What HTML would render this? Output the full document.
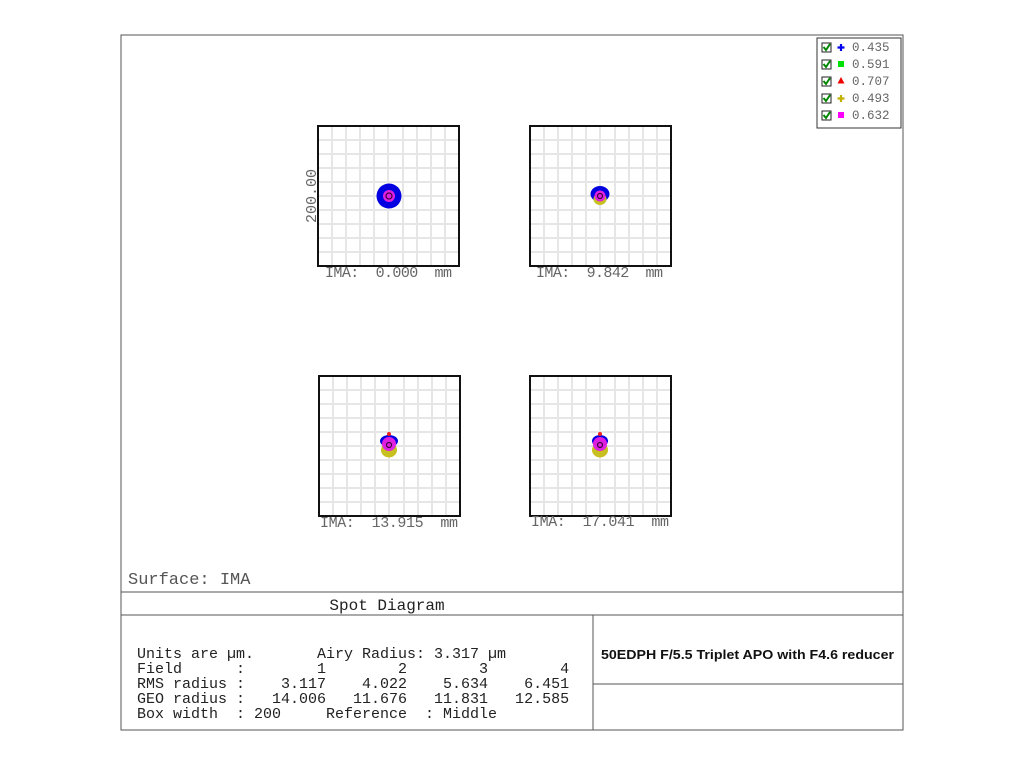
<!DOCTYPE html>
<html><head><meta charset="utf-8"><style>
body{margin:0;background:#fff;}
svg text{font-family:"Liberation Mono",monospace;white-space:pre;}
</style></head><body>
<svg width="1024" height="761" xmlns="http://www.w3.org/2000/svg">
<defs>
<g id="box">
<rect x="0" y="0" width="141" height="140" fill="#fff"/>
<g stroke="#e6e6e6" stroke-width="2">
<path d="M14 0V140M28 0V140M42 0V140M56 0V140M70 0V140M85 0V140M99 0V140M113 0V140M127 0V140"/>
<path d="M0 14H141M0 28H141M0 42H141M0 56H141M0 70H141M0 84H141M0 98H141M0 112H141M0 126H141"/>
</g>
<rect x="0" y="0" width="141" height="140" fill="none" stroke="#111" stroke-width="2"/>
</g>
</defs>
<rect x="121" y="35" width="782" height="695" fill="none" stroke="#555" stroke-width="1"/>
<line x1="121" y1="592" x2="903" y2="592" stroke="#555"/>
<line x1="121" y1="615" x2="903" y2="615" stroke="#555"/>
<line x1="593" y1="615" x2="593" y2="730" stroke="#555"/>
<line x1="593" y1="684" x2="903" y2="684" stroke="#555"/>

<use href="#box" x="318" y="126"/>
<use href="#box" x="530" y="126"/>
<use href="#box" x="319" y="376"/>
<use href="#box" x="530" y="376"/>

<g font-size="15" fill="#666">
<text x="325" y="277" textLength="127" lengthAdjust="spacing">IMA:  0.000  mm</text>
<text x="536" y="277" textLength="127" lengthAdjust="spacing">IMA:  9.842  mm</text>
<text x="320" y="527" textLength="138" lengthAdjust="spacing">IMA:  13.915  mm</text>
<text x="531" y="526" textLength="138" lengthAdjust="spacing">IMA:  17.041  mm</text>
<text transform="translate(316,196) rotate(-90)" text-anchor="middle">200.00</text>
</g>

<circle cx="389" cy="196" r="12.5" fill="#0000e0"/>
<circle cx="389" cy="196" r="6" fill="#e020e0"/>
<circle cx="389" cy="196" r="3" fill="none" stroke="#400040" stroke-width="1.2"/>

<ellipse cx="600" cy="194" rx="9.5" ry="8" fill="#0000e0"/>
<ellipse cx="600" cy="199" rx="6.5" ry="6" fill="#c8c020"/>
<circle cx="600" cy="196" r="5.5" fill="#e020e0"/>
<circle cx="600" cy="196" r="2.5" fill="none" stroke="#400040" stroke-width="1.2"/>

<ellipse cx="389" cy="441" rx="9" ry="6" fill="#0000e0"/>
<ellipse cx="389" cy="450" rx="8" ry="7.5" fill="#c8c020"/>
<circle cx="389" cy="444" r="7" fill="#e020e0"/>
<circle cx="389" cy="434" r="2" fill="#f02020"/>
<circle cx="389" cy="445" r="2.5" fill="none" stroke="#400040" stroke-width="1.2"/>

<ellipse cx="600" cy="441" rx="8" ry="6" fill="#0000e0"/>
<ellipse cx="600" cy="450" rx="8" ry="7.5" fill="#c8c020"/>
<circle cx="600" cy="444" r="7" fill="#e020e0"/>
<circle cx="600" cy="434" r="2" fill="#f02020"/>
<circle cx="600" cy="445" r="2.5" fill="none" stroke="#400040" stroke-width="1.2"/>

<rect x="817" y="38" width="84" height="90" fill="#fff" stroke="#333"/>
<g font-size="12.5" fill="#666">
<g>
<rect x="822" y="43" width="9" height="9" fill="#fff" stroke="#222"/><path d="M823.5 47l2.5 3 4-6" stroke="#080" stroke-width="2" fill="none"/>
<path d="M841 44v7M837.5 47.5h7" stroke="#0000ee" stroke-width="2.2"/>
<text x="852" y="51">0.435</text></g>
<g>
<rect x="822" y="60" width="9" height="9" fill="#fff" stroke="#222"/><path d="M823.5 64l2.5 3 4-6" stroke="#080" stroke-width="2" fill="none"/>
<rect x="838" y="61" width="6" height="6" fill="#00e000"/>
<text x="852" y="68">0.591</text></g>
<g>
<rect x="822" y="77" width="9" height="9" fill="#fff" stroke="#222"/><path d="M823.5 81l2.5 3 4-6" stroke="#080" stroke-width="2" fill="none"/>
<path d="M841 77l3.5 6.5h-7z" fill="#ee0000"/>
<text x="852" y="85">0.707</text></g>
<g>
<rect x="822" y="94" width="9" height="9" fill="#fff" stroke="#222"/><path d="M823.5 98l2.5 3 4-6" stroke="#080" stroke-width="2" fill="none"/>
<path d="M841 95v7M837.5 98.5h7" stroke="#c0b000" stroke-width="2.2"/>
<text x="852" y="102">0.493</text></g>
<g>
<rect x="822" y="111" width="9" height="9" fill="#fff" stroke="#222"/><path d="M823.5 115l2.5 3 4-6" stroke="#080" stroke-width="2" fill="none"/>
<rect x="838" y="112" width="6" height="6" fill="#ff00ff"/>
<text x="852" y="119">0.632</text></g>
</g>

<text x="128" y="584" font-size="17" fill="#555">Surface: IMA</text>
<text x="387" y="610" font-size="16" fill="#222" text-anchor="middle">Spot Diagram</text>
<g font-size="15" fill="#222">
<text x="137" y="658">Units are µm.       Airy Radius: 3.317 µm</text>
<text x="137" y="673">Field      :        1        2        3        4</text>
<text x="137" y="688">RMS radius :    3.117    4.022    5.634    6.451</text>
<text x="137" y="703">GEO radius :   14.006   11.676   11.831   12.585</text>
<text x="137" y="718">Box width  : 200     Reference  : Middle</text>
</g>
<text x="601" y="659" font-size="13" font-weight="bold" fill="#111" textLength="293" lengthAdjust="spacingAndGlyphs" style="font-family:'Liberation Sans',sans-serif">50EDPH F/5.5 Triplet APO with F4.6 reducer</text>
</svg>
</body></html>
